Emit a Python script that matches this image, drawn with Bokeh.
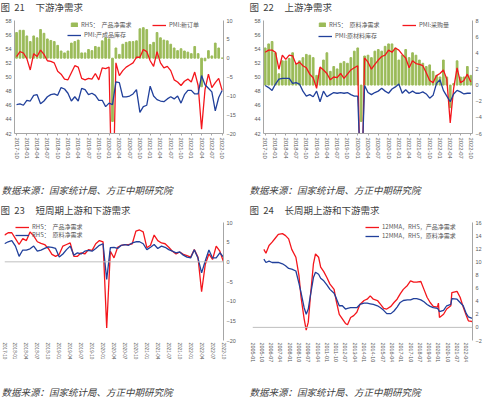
import pandas as pd
from bokeh.plotting import figure
from bokeh.models import (Range1d, LinearAxis, FixedTicker, Legend, LegendItem, Span)
from bokeh.core.properties import value
from bokeh.layouts import column, row
from bokeh.embed import file_html
from bokeh.resources import INLINE

# ---------------- data ----------------
months = pd.date_range("2017-10-01", "2022-10-01", freq="MS").strftime("%Y-%m").tolist()

pmi_new_orders = [52.9, 53.6, 53.4, 52.6, 51.0, 53.3, 52.9, 53.8, 53.2, 52.3,
                  52.2, 52.0, 50.8, 50.4, 49.7, 49.6, 50.6, 51.6, 51.4, 49.8,
                  49.6, 49.8, 49.7, 50.5, 49.6, 51.3, 51.2, 51.4, 29.3, 52.0,
                  50.2, 50.9, 51.4, 51.7, 52.0, 52.8, 52.8, 53.9, 53.6, 52.3,
                  51.5, 53.6, 52.0, 51.3, 51.5, 50.9, 49.6, 49.3, 48.8, 49.4,
                  49.7, 49.3, 50.7, 48.8, 42.6, 48.2, 50.4, 48.5, 49.2, 49.8,
                  48.1]
pmi_finished_inv = [46.1, 46.2, 46.0, 46.7, 46.6, 47.4, 47.5, 46.2, 46.6, 47.2,
                    47.5, 47.6, 47.4, 48.5, 48.3, 47.7, 46.6, 47.2, 46.6, 48.4,
                    48.2, 47.5, 47.7, 47.4, 46.7, 46.7, 45.8, 46.3, 46.1, 49.3,
                    49.2, 47.2, 47.2, 47.3, 47.6, 48.2, 45.0, 45.8, 46.0, 48.7,
                    47.3, 46.8, 46.6, 46.5, 46.9, 47.2, 46.9, 47.3, 46.3, 47.5,
                    48.1, 48.1, 47.6, 47.6, 50.2, 48.9, 48.4, 47.9, 45.2, 47.1,
                    48.1]
product_net = [6.8, 7.4, 7.4, 5.9, 4.4, 5.9, 5.4, 7.6, 6.6, 5.1,
               4.7, 4.4, 3.4, 1.9, 1.4, 1.9, 4.0, 4.4, 4.8, 1.4,
               1.4, 2.3, 2.0, 3.1, 2.9, 4.6, 5.4, 5.1, -16.8, 2.7,
               1.0, 3.7, 4.2, 4.4, 4.4, 4.6, 7.8, 8.1, 7.6, 3.6,
               4.2, 6.8, 5.4, 4.8, 4.6, 3.7, 2.7, 2.0, 2.5, 1.9,
               1.6, 1.2, 3.1, 1.2, -7.6, -0.7, 2.0, 0.6, 4.0, 2.7,
               0.0]

pmi_purchase = [53.5, 53.8, 53.8, 53.5, 51.1, 53.1, 52.5, 53.1, 53.0, 51.8,
                52.1, 51.6, 51.3, 50.4, 49.9, 48.4, 51.4, 51.0, 50.5, 49.6,
                50.0, 49.9, 50.5, 49.8, 50.4, 51.0, 51.3, 51.6, 29.3, 52.7,
                52.1, 51.1, 51.8, 52.4, 52.9, 53.1, 53.8, 53.5, 54.1, 53.8,
                53.2, 52.7, 51.3, 52.3, 51.9, 51.8, 51.6, 50.6, 49.5, 49.2,
                50.2, 50.5, 51.0, 49.7, 43.5, 48.4, 51.3, 49.2, 49.5, 50.4,
                49.3]
pmi_raw_inv = [48.8, 48.5, 48.1, 49.0, 49.7, 49.8, 49.8, 49.8, 49.1, 49.2,
               49.0, 48.0, 47.3, 47.5, 47.2, 48.0, 46.5, 48.0, 47.2, 47.5,
               47.8, 47.7, 47.8, 47.7, 47.8, 47.5, 47.3, 47.3, 33.9, 48.8,
               47.8, 47.5, 47.8, 48.0, 48.4, 48.0, 47.7, 48.3, 48.6, 49.0,
               47.7, 48.2, 47.7, 48.0, 47.7, 47.7, 47.9, 47.6, 47.0, 47.4,
               49.1, 49.6, 48.1, 47.3, 46.5, 47.6, 48.1, 47.9, 47.6, 47.7,
               47.7]
raw_net = [4.6, 5.1, 5.4, 4.0, 1.4, 3.0, 3.0, 3.3, 4.0, 2.7,
           3.0, 3.4, 3.8, 3.7, 3.4, 1.2, 2.0, 3.1, 4.0, 1.7,
           2.3, 2.0, 2.7, 2.9, 2.7, 3.4, 4.2, 4.6, -4.5, 3.6,
           3.7, 3.4, 4.2, 4.4, 4.2, 4.8, 5.1, 5.1, 4.6, 3.1,
           3.7, 4.4, 3.4, 4.0, 3.7, 3.1, 2.7, 2.3, 2.5, 1.7,
           1.2, 1.0, 3.1, 1.0, -2.8, 0.2, 3.0, 1.0, 1.0, 2.3,
           1.2]

dates_long = ["2005-12", "2006-02", "2006-05", "2006-08", "2006-11", "2007-02", "2007-06",
              "2007-09", "2007-12", "2008-03", "2008-07", "2008-10", "2008-12", "2009-03",
              "2009-05", "2009-07", "2009-09", "2009-12", "2010-02", "2010-05", "2010-07",
              "2010-10", "2011-01", "2011-04", "2011-08", "2011-10", "2012-01", "2012-04",
              "2012-07", "2012-09", "2012-12", "2013-03", "2013-06", "2013-09", "2014-01",
              "2014-04", "2014-07", "2014-10", "2015-02", "2015-05", "2015-08", "2015-11",
              "2016-03", "2016-06", "2016-09", "2016-12", "2017-03", "2017-07", "2017-10",
              "2018-01", "2018-04", "2018-08", "2018-11", "2019-02", "2019-05", "2019-08",
              "2019-12", "2020-01", "2020-02", "2020-06", "2020-09", "2021-01", "2021-02",
              "2021-07", "2021-10", "2022-01", "2022-04", "2022-06", "2022-09", "2022-10"]
product_net_12mma = [11.9, 11.3, 12.5, 13.0, 13.6, 14.2, 14.3, 14.0, 13.5, 11.9,
                     10.7, 7.9, 4.6, 1.3, -0.4, 0.8, 4.6, 9.7, 11.2, 10.7,
                     9.2, 8.5, 7.6, 6.6, 5.8, 4.1, 2.0, 1.3, 0.6, 0.4,
                     1.5, 1.8, 2.3, 3.5, 4.1, 4.3, 4.8, 4.3, 4.1, 3.5,
                     2.9, 2.8, 3.2, 3.8, 4.3, 5.1, 5.8, 6.4, 7.1, 6.9,
                     6.9, 7.0, 5.8, 4.6, 3.8, 3.2, 3.1, 3.7, 1.5, 2.0,
                     2.8, 3.3, 5.3, 5.5, 4.6, 3.1, 1.8, 1.0, 0.9, 0.9]
raw_net_12mma = [10.4, 9.9, 10.1, 9.9, 9.9, 9.9, 9.7, 9.4, 9.0, 8.9,
                 8.6, 6.7, 5.3, 3.0, 2.0, 2.8, 4.8, 7.6, 8.4, 8.1,
                 7.5, 7.1, 6.5, 5.8, 5.2, 4.5, 3.3, 3.3, 2.8, 2.9,
                 3.0, 3.0, 3.0, 3.5, 3.7, 3.7, 3.6, 3.5, 3.3, 3.0,
                 2.6, 2.1, 2.1, 2.5, 3.1, 3.8, 4.1, 4.2, 4.2, 4.4,
                 4.4, 4.2, 3.9, 3.5, 3.2, 3.0, 2.9, 2.7, 2.4, 2.6,
                 3.3, 3.5, 4.4, 4.3, 3.8, 3.3, 2.1, 1.6, 1.4, 1.4]

# ---------------- style ----------------
RED = "#F4161C"
BLUE = "#21409B"
GREEN = "#9BBB59"
AX = "#A6A6A6"
TXT = "#595959"
CJK = "Noto Sans CJK SC"
NUM = "Liberation Sans"
NB = "\u00a0"
SOURCE = "数据来源：国家统计局、方正中期研究院"

xi = list(range(len(months)))
tick_idx = list(range(0, len(months), 3))
tick_lbl = {i: months[i] for i in tick_idx}


def text_fig(w, h, txt, x, y, size, italic=False):
    p = figure(width=w, height=h, x_range=Range1d(0, w), y_range=Range1d(0, h),
               output_backend="svg", toolbar_location=None,
               x_axis_location=None, y_axis_location=None, min_border=0)
    p.outline_line_color = None
    p.grid.visible = False
    p.background_fill_color = "white"
    p.border_fill_color = "white"
    p.text(x=[x], y=[y], text=[txt], text_font=value(CJK), text_font_size=value(size),
           text_font_style="italic" if italic else "normal", text_color="#404040",
           text_baseline="middle", text_align="left")
    return p


def style_axis(ax, size="5.5px"):
    ax.major_label_text_font = NUM
    ax.major_label_text_font_size = size
    ax.major_label_text_color = TXT
    ax.axis_line_color = AX
    ax.major_tick_line_color = AX
    ax.major_tick_in = 0
    ax.major_tick_out = 0
    ax.minor_tick_line_color = None
    ax.major_label_standoff = 3


def plot_fig(w, h, xr, yr, lb, rb, tb, bb, yloc="left"):
    p = figure(width=w, height=h, x_range=xr, y_range=yr, output_backend="svg",
               toolbar_location=None, y_axis_location=yloc)
    p.outline_line_color = None
    p.xgrid.visible = False
    p.ygrid.visible = False
    p.min_border_left = lb
    p.min_border_right = rb
    p.min_border_top = tb
    p.min_border_bottom = bb
    p.background_fill_color = "white"
    p.border_fill_color = "white"
    return p


def add_legend(p, label, rend, loc, gw=14, gh=6):
    leg = Legend(items=[LegendItem(label=label, renderers=[rend])], location=loc)
    leg.label_text_font = CJK
    leg.label_text_font_size = "6px"
    leg.label_text_color = TXT
    leg.background_fill_alpha = 0
    leg.border_line_alpha = 0
    leg.padding = 0
    leg.margin = 0
    leg.spacing = 0
    leg.glyph_width = gw
    leg.glyph_height = gh
    leg.label_standoff = 3
    leg.label_height = 9
    p.add_layout(leg)


def xaxis_months(p, size="5.8px", ticks_out=2):
    ax = p.xaxis[0]
    style_axis(ax, size)
    ax.ticker = FixedTicker(ticks=tick_idx)
    ax.major_label_overrides = tick_lbl
    ax.major_label_orientation = "vertical"
    ax.major_tick_out = ticks_out
    ax.major_label_standoff = 2


def title_text(num, name):
    return "图" + NB * 2 + num + NB * 5 + name


# ---------------- panel 21 ----------------
t1 = text_fig(242, 16, title_text("21", "下游净需求"), 0, 10, "9.5px")
p1 = plot_fig(242, 156, Range1d(-0.6, 60.4), Range1d(42, 58), 14, 19, 4, 39)
p1.extra_y_ranges = {"rhs": Range1d(-20, 10)}
b1 = p1.vbar(x=xi, top=product_net, bottom=0, width=0.5, color=GREEN, y_range_name="rhs")
l1r = p1.line(xi, pmi_new_orders, color=RED, line_width=1.3)
l1b = p1.line(xi, pmi_finished_inv, color=BLUE, line_width=1.3)
style_axis(p1.yaxis[0])
p1.yaxis[0].ticker = FixedTicker(ticks=list(range(42, 59, 2)))
ra1 = LinearAxis(y_range_name="rhs", ticker=FixedTicker(ticks=[-20, -15, -10, -5, 0, 5, 10]))
style_axis(ra1)
p1.add_layout(ra1, "right")
xaxis_months(p1)
add_legend(p1, "RHS：" + NB * 2 + "产品净需求", b1, (56, 104), gw=8, gh=5)
add_legend(p1, "PMI:新订单", l1r, (138, 104))
add_legend(p1, "PMI:产成品库存", l1b, (53, 94))
f1 = text_fig(242, 25, SOURCE, 1, 8, "9.5px", italic=True)

# ---------------- panel 22 ----------------
t2 = text_fig(242, 16, title_text("22", "上游净需求"), 7, 10, "9.5px")
p2 = plot_fig(242, 156, Range1d(-0.5, 60.5), Range1d(42, 58), 21, 10, 4, 39)
p2.extra_y_ranges = {"rhs": Range1d(-6, 8)}
b2 = p2.vbar(x=xi, top=raw_net, bottom=0, width=0.5, color=GREEN, y_range_name="rhs")
l2r = p2.line(xi, pmi_purchase, color=RED, line_width=1.3)
l2b = p2.line(xi, pmi_raw_inv, color=BLUE, line_width=1.3)
style_axis(p2.yaxis[0])
p2.yaxis[0].ticker = FixedTicker(ticks=list(range(42, 59, 2)))
ra2 = LinearAxis(y_range_name="rhs", ticker=FixedTicker(ticks=list(range(-6, 9, 2))))
style_axis(ra2)
p2.add_layout(ra2, "right")
xaxis_months(p2)
add_legend(p2, "RHS：" + NB * 2 + "原料净需求", b2, (55, 104), gw=8, gh=5)
add_legend(p2, "PMI:采购量", l2r, (139, 104))
add_legend(p2, "PMI:原材料库存", l2b, (55, 93))
f2 = text_fig(242, 25, SOURCE, 7, 8, "9.5px", italic=True)

# ---------------- panel 23 ----------------
t3 = text_fig(242, 21, title_text("23", "短周期上游和下游需求"), 0, 9, "9.5px")
p3 = plot_fig(242, 158, Range1d(0, 60), Range1d(-20, 10), 4, 19, 4, 36, yloc="right")
p3.add_layout(Span(location=0, dimension="width", line_color="#BFBFBF", line_width=1))
l3r = p3.line(xi, product_net, color=RED, line_width=1.3)
l3b = p3.line(xi, raw_net, color=BLUE, line_width=1.3)
style_axis(p3.yaxis[0])
p3.yaxis[0].ticker = FixedTicker(ticks=[-20, -15, -10, -5, 0, 5, 10])
xaxis_months(p3, size="4.6px", ticks_out=0)
p3.xaxis[0].axis_line_color = None
add_legend(p3, "RHS：" + NB * 2 + "产品净需求", l3r, (11, 109))
add_legend(p3, "RHS：" + NB * 2 + "原料净需求", l3b, (11, 101))
f3 = text_fig(242, 21, SOURCE, 1, 6, "9.5px", italic=True)

# ---------------- panel 24 ----------------
def month_index(s):
    y, m = s.split("-")
    return (int(y) - 2005) * 12 + int(m) - 1

x4 = [month_index(d) for d in dates_long]
t4_ticks = list(range(0, 208, 9))
t4_lbl = {}
for t in t4_ticks:
    t4_lbl[t] = "%d-%02d" % (2005 + t // 12, t % 12 + 1)

t4 = text_fig(242, 21, title_text("24", "长周期上游和下游需求"), 7, 9, "9.5px")
p4 = plot_fig(242, 158, Range1d(0, 213), Range1d(-2, 16), 10, 11, 4, 36, yloc="right")
p4.add_layout(Span(location=0, dimension="width", line_color="#BFBFBF", line_width=1))
l4r = p4.line(x4, product_net_12mma, color=RED, line_width=1.3)
l4b = p4.line(x4, raw_net_12mma, color=BLUE, line_width=1.3)
style_axis(p4.yaxis[0])
p4.yaxis[0].ticker = FixedTicker(ticks=list(range(-2, 17, 2)))
ax4 = p4.xaxis[0]
style_axis(ax4, "5.4px")
ax4.ticker = FixedTicker(ticks=t4_ticks)
ax4.major_label_overrides = t4_lbl
ax4.major_label_orientation = "vertical"
ax4.axis_line_color = None
ax4.major_label_standoff = 2
add_legend(p4, "12MMA，RHS，产品净需求", l4r, (113, 109))
add_legend(p4, "12MMA，RHS，原料净需求", l4b, (113, 100))
f4 = text_fig(242, 21, SOURCE, 7, 6, "9.5px", italic=True)

layout = column(row(t1, t2), row(p1, p2), row(f1, f2),
                row(t3, t4), row(p3, p4), row(f3, f4))
open("out.html", "w").write(file_html(layout, INLINE))
